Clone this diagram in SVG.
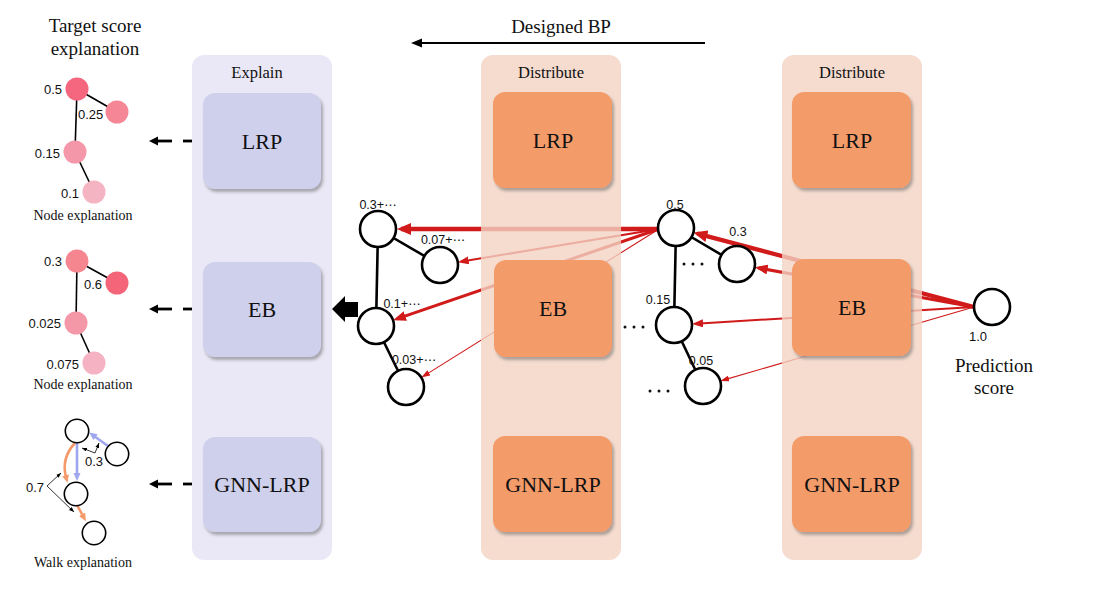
<svg xmlns="http://www.w3.org/2000/svg" width="1101" height="589" viewBox="0 0 1101 589">
<style>
.serif{font-family:"Liberation Serif","Times New Roman",serif;fill:#111}
.sans{font-family:"Liberation Sans","DejaVu Sans",sans-serif;fill:#111}
.box{font-size:22px}
.ptitle{font-size:16.5px}
.nl{font-size:13px}
.gl{font-size:12.5px}
.red{stroke:#d11a1a;fill:none}
.gnode{fill:#fff;stroke:#000;stroke-width:2.6}
.gedge{stroke:#000;stroke-width:2.6}
.sedge{stroke:#000;stroke-width:1.6}
.wnode{fill:#fff;stroke:#000;stroke-width:1.6}
.dot{fill:#111}
</style>
<defs>
<filter id="sh" x="-10%" y="-10%" width="125%" height="125%">
<feDropShadow dx="2" dy="3" stdDeviation="1.6" flood-color="#555" flood-opacity="0.45"/>
</filter>
<marker id="r4" markerUnits="userSpaceOnUse" markerWidth="15" markerHeight="12" refX="10" refY="6" orient="auto"><path d="M0,0 L14,6 L0,12 z" fill="#d11a1a"/></marker>
<marker id="r3" markerUnits="userSpaceOnUse" markerWidth="14" markerHeight="10" refX="9" refY="5" orient="auto"><path d="M0,0 L13,5 L0,10 z" fill="#d11a1a"/></marker>
<marker id="r2" markerUnits="userSpaceOnUse" markerWidth="12" markerHeight="8" refX="7" refY="4" orient="auto"><path d="M0,0 L11,4 L0,8 z" fill="#d11a1a"/></marker>
<marker id="r1" markerUnits="userSpaceOnUse" markerWidth="10" markerHeight="6" refX="5" refY="3" orient="auto"><path d="M0,0 L9,3 L0,6 z" fill="#d11a1a"/></marker>
<marker id="kb" markerUnits="userSpaceOnUse" markerWidth="10" markerHeight="10" refX="1" refY="4.5" orient="auto"><path d="M0,0 L9,4.5 L0,9 z" fill="#000"/></marker>
<marker id="kt" markerUnits="userSpaceOnUse" markerWidth="12" markerHeight="10" refX="2" refY="4.5" orient="auto"><path d="M0,0 L11,4.5 L0,9 z" fill="#000"/></marker>
<marker id="ko" markerUnits="userSpaceOnUse" markerWidth="9" markerHeight="8" refX="2" refY="3.5" orient="auto"><path d="M0,0 L8,3.5 L0,7 z" fill="#f4996a"/></marker>
<marker id="kbl" markerUnits="userSpaceOnUse" markerWidth="9" markerHeight="8" refX="2" refY="3.5" orient="auto"><path d="M0,0 L8,3.5 L0,7 z" fill="#9ea6ee"/></marker>
<marker id="ks" markerUnits="userSpaceOnUse" markerWidth="6" markerHeight="5" refX="5" refY="2" orient="auto"><path d="M0,0 L5,2 L0,4 z" fill="#000"/></marker>
</defs>
<rect width="1101" height="589" fill="#fff"/>

<!-- connectors drawn first so the semi-transparent panels tint them -->
<g id="connectors">
<line class="red" x1="659" y1="229" x2="401" y2="229" stroke-width="4.5" marker-end="url(#r4)"/>
<line class="red" x1="659" y1="229" x2="461.7" y2="261.5" stroke-width="2" marker-end="url(#r2)"/>
<line class="red" x1="659" y1="229" x2="396.8" y2="318.9" stroke-width="3" marker-end="url(#r3)"/>
<line class="red" x1="659" y1="229" x2="424.7" y2="375.4" stroke-width="1.1" marker-end="url(#r1)"/>
<line class="red" x1="974" y1="307" x2="697.3" y2="233.6" stroke-width="4.2" marker-end="url(#r4)"/>
<line class="red" x1="974" y1="307" x2="758.6" y2="267.9" stroke-width="3.2" marker-end="url(#r3)"/>
<line class="red" x1="974" y1="307" x2="696" y2="323.7" stroke-width="2" marker-end="url(#r2)"/>
<line class="red" x1="974" y1="307" x2="724.1" y2="379.9" stroke-width="1.1" marker-end="url(#r1)"/>
<!-- Designed BP -->
<line x1="705" y1="43" x2="420" y2="43" stroke="#000" stroke-width="2" marker-end="url(#kt)"/>
<!-- dashed arrows from Explain boxes -->
<g stroke-width="2.8">
<line x1="192" y1="141" x2="203" y2="141" stroke="#c8c8d4"/>
<line x1="183" y1="141" x2="192" y2="141" stroke="#000"/>
<line x1="172" y1="141" x2="157" y2="141" stroke="#000" marker-end="url(#kb)"/>
<line x1="192" y1="309" x2="203" y2="309" stroke="#c8c8d4"/>
<line x1="183" y1="309" x2="192" y2="309" stroke="#000"/>
<line x1="172" y1="309" x2="157" y2="309" stroke="#000" marker-end="url(#kb)"/>
<line x1="192" y1="484" x2="203" y2="484" stroke="#c8c8d4"/>
<line x1="183" y1="484" x2="192" y2="484" stroke="#000"/>
<line x1="172" y1="484" x2="157" y2="484" stroke="#000" marker-end="url(#kb)"/>
</g>
<!-- big block arrow -->
<polygon points="332,309 345,296 345,302 358,302 358,317 345,317 345,322" fill="#000"/>
</g>

<text class="serif" x="561" y="33" font-size="19" text-anchor="middle">Designed BP</text>

<!-- Explain panel -->
<g id="panel-explain">
<rect x="192" y="55" width="140" height="505" rx="12" fill="#eae8f6"/>
<text class="serif ptitle" x="257" y="78" text-anchor="middle">Explain</text>
<g id="explain-lrp"><rect x="203" y="93" width="118" height="96" rx="12" fill="#cfd0ec" filter="url(#sh)"/><text class="serif box" x="262" y="149" text-anchor="middle">LRP</text></g>
<g id="explain-eb"><rect x="203" y="262" width="118" height="95" rx="12" fill="#cfd0ec" filter="url(#sh)"/><text class="serif box" x="262" y="317" text-anchor="middle">EB</text></g>
<g id="explain-gnnlrp"><rect x="203" y="437" width="118" height="95" rx="12" fill="#cfd0ec" filter="url(#sh)"/><text class="serif box" x="262" y="492" text-anchor="middle">GNN-LRP</text></g>
</g>

<!-- Distribute panel 1 -->
<g id="panel-distribute-1">
<rect x="481" y="55" width="140" height="505" rx="12" fill="#f3d3c3" fill-opacity="0.8"/>
<text class="serif ptitle" x="551" y="78" text-anchor="middle">Distribute</text>
<g id="d1-lrp"><rect x="493" y="92" width="119" height="96" rx="12" fill="#f49b6a" filter="url(#sh)"/><text class="serif box" x="553" y="148" text-anchor="middle">LRP</text></g>
<g id="d1-eb"><rect x="494" y="260" width="118" height="97" rx="12" fill="#f49b6a" filter="url(#sh)"/><text class="serif box" x="553" y="316" text-anchor="middle">EB</text></g>
<g id="d1-gnnlrp"><rect x="493" y="436" width="119" height="96" rx="12" fill="#f49b6a" filter="url(#sh)"/><text class="serif box" x="553" y="492" text-anchor="middle">GNN-LRP</text></g>
</g>

<!-- Distribute panel 2 -->
<g id="panel-distribute-2">
<rect x="782" y="55" width="140" height="505" rx="12" fill="#f3d3c3" fill-opacity="0.8"/>
<text class="serif ptitle" x="852" y="78" text-anchor="middle">Distribute</text>
<g id="d2-lrp"><rect x="792" y="92" width="119" height="96" rx="12" fill="#f49b6a" filter="url(#sh)"/><text class="serif box" x="852" y="148" text-anchor="middle">LRP</text></g>
<g id="d2-eb"><rect x="792" y="259" width="119" height="97" rx="12" fill="#f49b6a" filter="url(#sh)"/><text class="serif box" x="852" y="315" text-anchor="middle">EB</text></g>
<g id="d2-gnnlrp"><rect x="792" y="436" width="119" height="96" rx="12" fill="#f49b6a" filter="url(#sh)"/><text class="serif box" x="852" y="492" text-anchor="middle">GNN-LRP</text></g>
</g>

<!-- middle graph -->
<g id="graph-mid">
<line class="gedge" x1="378" y1="229" x2="440" y2="265"/>
<line class="gedge" x1="378" y1="229" x2="376" y2="326"/>
<line class="gedge" x1="376" y1="326" x2="406" y2="387"/>
<g id="mA"><circle class="gnode" cx="378" cy="229" r="18"/><text class="sans gl" x="378" y="209" text-anchor="middle">0.3+⋯</text></g>
<g id="mB"><circle class="gnode" cx="440" cy="265" r="18"/><text class="sans gl" x="443" y="244" text-anchor="middle">0.07+⋯</text></g>
<g id="mC"><circle class="gnode" cx="376" cy="326" r="18"/><text class="sans gl" x="402" y="308" text-anchor="middle">0.1+⋯</text></g>
<g id="mD"><circle class="gnode" cx="406" cy="387" r="18"/><text class="sans gl" x="414" y="364" text-anchor="middle">0.03+⋯</text></g>
</g>

<!-- right graph -->
<g id="graph-right">
<line class="gedge" x1="676" y1="228" x2="737" y2="264"/>
<line class="gedge" x1="676" y1="228" x2="674" y2="325"/>
<line class="gedge" x1="674" y1="325" x2="703" y2="386"/>
<g id="rE"><circle class="gnode" cx="676" cy="228" r="18"/><text class="sans gl" x="675" y="209" text-anchor="middle">0.5</text></g>
<g id="rF"><circle class="gnode" cx="737" cy="264" r="18"/><text class="sans gl" x="738" y="236" text-anchor="middle">0.3</text></g>
<g id="rG"><circle class="gnode" cx="674" cy="325" r="18"/><text class="sans gl" x="658" y="304" text-anchor="middle">0.15</text></g>
<g id="rH"><circle class="gnode" cx="703" cy="386" r="18"/><text class="sans gl" x="701" y="365" text-anchor="middle">0.05</text></g>
<g id="dots">
<circle class="dot" cx="684" cy="264" r="1.5"/><circle class="dot" cx="693" cy="264" r="1.5"/><circle class="dot" cx="702" cy="264" r="1.5"/>
<circle class="dot" cx="625" cy="327" r="1.5"/><circle class="dot" cx="634" cy="327" r="1.5"/><circle class="dot" cx="643" cy="327" r="1.5"/>
<circle class="dot" cx="650" cy="391" r="1.5"/><circle class="dot" cx="659" cy="391" r="1.5"/><circle class="dot" cx="668" cy="391" r="1.5"/>
</g>
</g>

<!-- prediction node -->
<g id="prediction">
<circle class="gnode" cx="992" cy="307" r="18"/>
<text class="sans nl" x="978" y="341" text-anchor="middle">1.0</text>
<text class="serif" x="994" y="372" font-size="19" text-anchor="middle">Prediction</text>
<text class="serif" x="994" y="394" font-size="19" text-anchor="middle">score</text>
</g>

<!-- left explanations -->
<text class="serif" x="95" y="32" font-size="19" text-anchor="middle">Target score</text>
<text class="serif" x="95" y="55" font-size="19" text-anchor="middle">explanation</text>

<g id="node-expl-1">
<line class="sedge" x1="77" y1="89" x2="117" y2="112"/>
<line class="sedge" x1="77" y1="89" x2="75" y2="152"/>
<line class="sedge" x1="75" y1="152" x2="94" y2="192"/>
<circle cx="77" cy="89" r="11.5" fill="#f4677f"/>
<circle cx="117" cy="112" r="11.5" fill="#f58696"/>
<circle cx="75" cy="152" r="11.5" fill="#f497a8"/>
<circle cx="94" cy="192" r="11.5" fill="#f5b4c2"/>
<text class="sans nl" x="62" y="94" text-anchor="end">0.5</text>
<text class="sans nl" x="78" y="119">0.25</text>
<text class="sans nl" x="60" y="158" text-anchor="end">0.15</text>
<text class="sans nl" x="79" y="198" text-anchor="end">0.1</text>
<text class="serif" x="83" y="220" font-size="14" text-anchor="middle">Node explanation</text>
</g>

<g id="node-expl-2">
<line class="sedge" x1="77" y1="261" x2="117" y2="283"/>
<line class="sedge" x1="77" y1="261" x2="76" y2="323"/>
<line class="sedge" x1="76" y1="323" x2="94" y2="363"/>
<circle cx="77" cy="261" r="11.5" fill="#f5868f"/>
<circle cx="117" cy="283" r="11.5" fill="#f46579"/>
<circle cx="76" cy="323" r="11.5" fill="#f497a7"/>
<circle cx="94" cy="363" r="11.5" fill="#f5b2c2"/>
<text class="sans nl" x="62" y="266" text-anchor="end">0.3</text>
<text class="sans nl" x="102" y="289" text-anchor="end">0.6</text>
<text class="sans nl" x="61" y="328" text-anchor="end">0.025</text>
<text class="sans nl" x="79" y="369" text-anchor="end">0.075</text>
<text class="serif" x="83" y="389" font-size="14" text-anchor="middle">Node explanation</text>
</g>

<g id="walk-expl">
<path d="M75,443 Q61,458 66,477" fill="none" stroke="#f4996a" stroke-width="2.6" marker-end="url(#ko)"/>
<line x1="77" y1="443" x2="77" y2="475" stroke="#9ea6ee" stroke-width="2.6" marker-end="url(#kbl)"/>
<line x1="108" y1="446" x2="94" y2="436" stroke="#9ea6ee" stroke-width="2.6" marker-end="url(#kbl)"/>
<line x1="77" y1="505" x2="83" y2="516" stroke="#f4996a" stroke-width="2.6" marker-end="url(#ko)"/>
<circle class="wnode" cx="77" cy="431" r="11.7"/>
<circle class="wnode" cx="117" cy="454" r="11.7"/>
<circle class="wnode" cx="76" cy="494" r="11.7"/>
<circle class="wnode" cx="94" cy="533" r="11.7"/>
<g stroke="#000" stroke-width="0.8" fill="none">
<line x1="95" y1="453" x2="82" y2="448" marker-end="url(#ks)"/>
<line x1="95" y1="453" x2="99" y2="443" marker-end="url(#ks)"/>
<line x1="47" y1="486" x2="61" y2="473" marker-end="url(#ks)"/>
<line x1="47" y1="486" x2="74" y2="512" marker-end="url(#ks)"/>
</g>
<text class="sans nl" x="85" y="466">0.3</text>
<text class="sans nl" x="44" y="492" text-anchor="end">0.7</text>
<text class="serif" x="83" y="567" font-size="14" text-anchor="middle">Walk explanation</text>
</g>
</svg>
